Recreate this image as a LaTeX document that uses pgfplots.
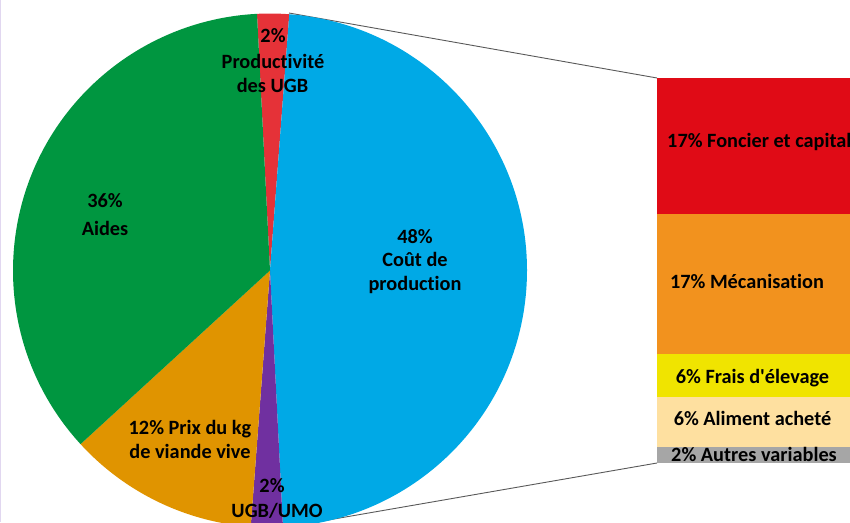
\documentclass[border=0pt]{standalone}
\usepackage{pgfplots}
\pgfplotsset{compat=1.18}
\usepackage{fontspec}
\setmainfont{Carlito}[Ligatures={TeXOff,CommonOff}]
\definecolor{pGreen}{RGB}{0,150,64}
\definecolor{pRed}{RGB}{229,50,56}
\definecolor{pBlue}{RGB}{0,169,230}
\definecolor{pPurple}{RGB}{112,48,160}
\definecolor{pOrange}{RGB}{224,148,0}
\definecolor{bRed}{RGB}{224,11,22}
\definecolor{bOrange}{RGB}{242,146,30}
\definecolor{bYellow}{RGB}{240,228,0}
\definecolor{bPeach}{RGB}{254,224,160}
\definecolor{bGray}{RGB}{166,166,166}
\definecolor{frame}{RGB}{225,215,240}
\newcommand{\lbl}{\fontsize{20.3}{24}\selectfont\bfseries}
\begin{document}
\begin{tikzpicture}
% ---- bar of pie: split of "Coût de production" (48 %)
\begin{axis}[at={(657pt,59pt)}, anchor=south west,
  width=193pt, height=385pt, scale only axis, hide axis,
  xmin=0, xmax=1, ymin=0, ymax=48,
  ybar stacked, bar width=193pt, clip=false]
\addplot[fill=bGray, draw=none] coordinates {(0.5,2.0)};
\addplot[fill=bPeach, draw=none] coordinates {(0.5,6.2)};
\addplot[fill=bYellow, draw=none] coordinates {(0.5,5.4)};
\addplot[fill=bOrange, draw=none] coordinates {(0.5,17.5)};
\addplot[fill=bRed, draw=none] coordinates {(0.5,16.9)};
\end{axis}
% ---- pie
\begin{axis}[at={(0pt,0pt)}, anchor=south west,
  x=1pt, y=1pt, xmin=0, xmax=850, ymin=0, ymax=522, y dir=reverse,
  hide axis, clip mode=global]
\addplot[draw=black!65, line width=0.9pt] coordinates {(289,13) (657,78)};
\addplot[draw=black!65, line width=0.9pt] coordinates {(282,528) (657,463)};
\addplot[draw=frame, line width=1pt] coordinates {(0.5,0) (0.5,522)};
% slices: values 2 (Productivité), 48 (Coût), 2 (UGB/UMO), 12 (Prix), 36 (Aides)
\fill[pRed] (axis cs:270,270.5) -- ++(canvas polar cs:angle=92.9,radius=257pt)
  arc[start angle=92.9, end angle={92.9-3.6*2}, radius=257pt] -- cycle;
\fill[pBlue] (axis cs:270,270.5) -- ++(canvas polar cs:angle={92.9-3.6*2},radius=257pt)
  arc[start angle={92.9-3.6*2}, end angle={92.9-3.6*50}, radius=257pt] -- cycle;
\fill[pPurple] (axis cs:270,270.5) -- ++(canvas polar cs:angle={92.9-3.6*50},radius=257pt)
  arc[start angle={92.9-3.6*50}, end angle={92.9-3.6*52}, radius=257pt] -- cycle;
\fill[pOrange] (axis cs:270,270.5) -- ++(canvas polar cs:angle={92.9-3.6*52},radius=257pt)
  arc[start angle={92.9-3.6*52}, end angle={92.9-3.6*64}, radius=257pt] -- cycle;
\fill[pGreen] (axis cs:270,270.5) -- ++(canvas polar cs:angle={92.9-3.6*64},radius=257pt)
  arc[start angle={92.9-3.6*64}, end angle={92.9-3.6*100}, radius=257pt] -- cycle;
% pie labels
\node[anchor=base, font=\lbl] at (axis cs:273,42) {2\%};
\node[anchor=base, font=\lbl] at (axis cs:273,68) {Productivité};
\node[anchor=base, font=\lbl] at (axis cs:272.5,92) {des UGB};
\node[anchor=base, font=\lbl] at (axis cs:105,207) {36\%};
\node[anchor=base, font=\lbl] at (axis cs:105,235) {Aides};
\node[anchor=base, font=\lbl] at (axis cs:415,243) {48\%};
\node[anchor=base, font=\lbl] at (axis cs:415,266) {Coût de};
\node[anchor=base, font=\lbl] at (axis cs:415,290) {production};
\node[anchor=base, font=\lbl] at (axis cs:190,434) {12\% Prix du kg};
\node[anchor=base, font=\lbl] at (axis cs:190,458) {de viande vive};
\node[anchor=base, font=\lbl] at (axis cs:272,492) {2\%};
\node[anchor=base, font=\lbl] at (axis cs:277,517) {UGB/UMO};
% bar labels
\node[anchor=base west, font=\lbl, inner xsep=0pt] at (axis cs:667,147) {17\% Foncier et capital};
\node[anchor=base, font=\lbl] at (axis cs:747,288) {17\% Mécanisation};
\node[anchor=base, font=\lbl] at (axis cs:752.5,383) {6\% Frais d'élevage};
\node[anchor=base, font=\lbl] at (axis cs:752.5,425) {6\% Aliment acheté};
\node[anchor=base, font=\lbl] at (axis cs:754,461) {2\% Autres variables};
\end{axis}
\end{tikzpicture}
\end{document}
